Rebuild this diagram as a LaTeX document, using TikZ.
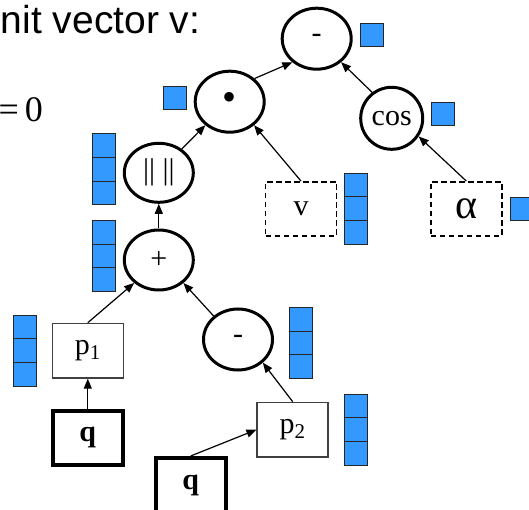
\documentclass[tikz,border=0pt]{standalone}
\usepackage{fontspec}
\setmainfont{Liberation Serif}
\newfontfamily\headfont{Liberation Sans}
\usetikzlibrary{shapes.geometric, arrows.meta, positioning}
\definecolor{cellblue}{HTML}{3399FF}

\begin{document}
\begin{tikzpicture}[x=1pt, y=-1pt,
    op/.style={ellipse, draw, line width=3pt, minimum width=69pt, minimum height=61pt, inner sep=0pt, font=\fontsize{30}{30}\selectfont},
    leaf/.style={rectangle, draw, dash pattern=on 5.5pt off 3.5pt, line width=1.5pt, minimum width=71pt, minimum height=54pt, inner sep=0pt, font=\fontsize{30}{30}\selectfont},
    proj/.style={rectangle, draw=black!75, line width=1.5pt, minimum width=71pt, minimum height=54.5pt, inner sep=0pt, font=\fontsize{30}{30}\selectfont},
    query/.style={rectangle, draw, line width=4pt, minimum width=70pt, minimum height=54pt, inner sep=0pt, font=\fontsize{30}{30}\selectfont},
    cell/.style={rectangle, draw=black!85, fill=cellblue, line width=1pt, minimum width=23pt, minimum height=23pt, inner sep=0pt},
    link/.style={-{Triangle[length=10pt, width=8pt]}, line width=1.2pt}]
    \useasboundingbox (0,0) rectangle (529,510);

    % Texts
    \node[anchor=base west, inner sep=0pt, font=\headfont\fontsize{39}{39}\selectfont] (title) at (0.7,33.3) {nit vector v:};
    \node[anchor=base east, inner sep=0pt, font=\fontsize{36}{36}\selectfont] (eqzero) at (43.2,121.7) {=\,0};

    % Nodes
    \node[op] (minus) at (316.7,38.7) {\raisebox{-4pt}{-}};
    \node[op, minimum width=62pt, minimum height=62pt] (cos) at (391.7,118.3) {cos};
    \node[op, font=\fontsize{40}{40}\selectfont] (dot) at (229.7,101.7) {\raisebox{-3.5pt}{•}};
    \node[leaf] (v) at (301,208.8) {v};
    \node[leaf, font=\fontsize{42}{42}\selectfont] (alpha) at (466.3,208.8) {α};
    \node[op, minimum height=59pt] (norm) at (158.8,172.8) {|| ||};
    \node[op, minimum height=60pt] (plus) at (158.8,260) {+};
    \node[proj] (p1) at (87.8,350.7) {p\textsubscript{1}};
    \node[query] (q1) at (87.8,437.7) {\textbf{q}};
    \node[op] (minus2) at (238,339.5) {\raisebox{-4pt}{-}};
    \node[proj] (p2) at (292.7,429.7) {p\textsubscript{2}};
    \node[query] (q2) at (190.7,485) {\textbf{q}};

    % Blue cells
    \node[cell] (minuscell) at (372,35) {};
    \node[cell] (coscell) at (442.7,114.2) {};
    \node[cell] (dotcell) at (174.5,98.3) {};
    \node[cell] (alphacell) at (522,208.7) {};
    \foreach \name/\x/\y in {vcol/356.2/208.7, normcol/103.7/169.2, pluscol/103.7/256,
                             pacol/24.7/350.8, minuscol/300.8/343, pbcol/356.3/429.8}
        \foreach \k/\dy in {a/-23.7, b/0, c/23.7}
            \node[cell, minimum height=23.7pt] (\name\k) at (\x,{\y+\dy}) {};

    % Links
    \draw[link] (dot.43) -- (minus.224);
    \draw[link] (cos.127) -- (minus.316);
    \draw[link] (norm.46) -- (dot.224);
    \draw[link] (v.north) -- (dot.316);
    \draw[link] (alpha.north) -- (cos.326);
    \draw[link] (plus.north) -- (norm.south);
    \draw[link] (p1.north) -- (plus.223);
    \draw[link] (minus2.136) -- (plus.317);
    \draw[link] (q1.north) -- (p1.south);
    \draw[link] (p2.north) -- (minus2.317);
    \draw[link] (q2.north) -- (p2.west);
\end{tikzpicture}
\end{document}
